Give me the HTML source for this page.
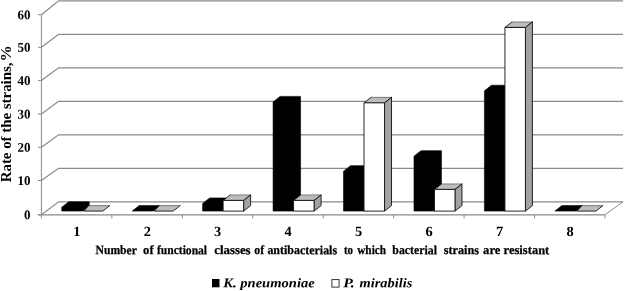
<!DOCTYPE html>
<html><head><meta charset="utf-8"><title>chart</title>
<style>html,body{margin:0;padding:0;background:#fff;}body{width:624px;height:291px;overflow:hidden;position:relative;font-family:"Liberation Serif",serif;}</style></head>
<body>
<svg width="624" height="291" viewBox="0 0 624 291" style="position:absolute;left:0;top:0;will-change:transform">
<polyline points="41.4,214.70 58.6,201.80 623.0,201.80" fill="none" stroke="#8a8a8a" stroke-width="1.25"/>
<line x1="37.9" y1="214.70" x2="41.4" y2="214.70" stroke="#8a8a8a" stroke-width="1"/>
<polyline points="41.4,180.50 58.6,168.30 623.0,168.30" fill="none" stroke="#8a8a8a" stroke-width="1.25"/>
<line x1="37.9" y1="180.50" x2="41.4" y2="180.50" stroke="#8a8a8a" stroke-width="1"/>
<polyline points="41.4,147.30 58.6,134.80 623.0,134.80" fill="none" stroke="#8a8a8a" stroke-width="1.25"/>
<line x1="37.9" y1="147.30" x2="41.4" y2="147.30" stroke="#8a8a8a" stroke-width="1"/>
<polyline points="41.4,114.00 58.6,101.30 623.0,101.30" fill="none" stroke="#8a8a8a" stroke-width="1.25"/>
<line x1="37.9" y1="114.00" x2="41.4" y2="114.00" stroke="#8a8a8a" stroke-width="1"/>
<polyline points="41.4,80.60 58.6,67.80 623.0,67.80" fill="none" stroke="#8a8a8a" stroke-width="1.25"/>
<line x1="37.9" y1="80.60" x2="41.4" y2="80.60" stroke="#8a8a8a" stroke-width="1"/>
<polyline points="41.4,47.30 58.6,34.30 623.0,34.30" fill="none" stroke="#8a8a8a" stroke-width="1.25"/>
<line x1="37.9" y1="47.30" x2="41.4" y2="47.30" stroke="#8a8a8a" stroke-width="1"/>
<polyline points="41.4,14.70 58.6,0.80 623.0,0.80" fill="none" stroke="#8a8a8a" stroke-width="1.25"/>
<line x1="37.9" y1="14.70" x2="41.4" y2="14.70" stroke="#8a8a8a" stroke-width="1"/>
<line x1="41.4" y1="14.70" x2="41.4" y2="218.29999999999998" stroke="#8a8a8a" stroke-width="1"/>
<line x1="37.9" y1="214.89999999999998" x2="605.0" y2="214.89999999999998" stroke="#8a8a8a" stroke-width="1.3"/>
<line x1="605.0" y1="214.7" x2="623.0" y2="201.8" stroke="#8a8a8a" stroke-width="1"/>
<line x1="111.85" y1="214.7" x2="111.85" y2="218.29999999999998" stroke="#8a8a8a" stroke-width="1"/>
<line x1="182.30" y1="214.7" x2="182.30" y2="218.29999999999998" stroke="#8a8a8a" stroke-width="1"/>
<line x1="252.75" y1="214.7" x2="252.75" y2="218.29999999999998" stroke="#8a8a8a" stroke-width="1"/>
<line x1="323.20" y1="214.7" x2="323.20" y2="218.29999999999998" stroke="#8a8a8a" stroke-width="1"/>
<line x1="393.65" y1="214.7" x2="393.65" y2="218.29999999999998" stroke="#8a8a8a" stroke-width="1"/>
<line x1="464.10" y1="214.7" x2="464.10" y2="218.29999999999998" stroke="#8a8a8a" stroke-width="1"/>
<line x1="534.55" y1="214.7" x2="534.55" y2="218.29999999999998" stroke="#8a8a8a" stroke-width="1"/>
<line x1="605.00" y1="214.7" x2="605.00" y2="218.29999999999998" stroke="#8a8a8a" stroke-width="1"/>
<polygon points="61.72,211.10 82.22,211.10 89.22,205.60 89.22,201.77 68.72,201.77 61.72,207.27" fill="#000" stroke="#000" stroke-width="0.6"/>
<polygon points="81.22,211.10 83.72,211.10 88.82,205.60 88.22,205.60" fill="#000"/>
<polygon points="83.72,211.10 102.72,211.10 109.72,205.60 88.82,205.60" fill="#bcbcbc"/>
<line x1="88.82" y1="205.60" x2="109.72" y2="205.60" stroke="#555" stroke-width="0.7"/>
<polyline points="88.82,205.60 83.72,211.10 102.72,211.10 109.72,205.60" fill="none" stroke="#111" stroke-width="0.9" stroke-linejoin="round" stroke-linecap="round"/>
<polygon points="132.18,211.10 152.68,211.10 159.68,205.60 159.68,205.60 139.18,205.60 132.18,211.10" fill="#000" stroke="#000" stroke-width="0.6"/>
<polygon points="151.68,211.10 154.18,211.10 159.28,205.60 158.68,205.60" fill="#000"/>
<polygon points="154.18,211.10 173.18,211.10 180.18,205.60 159.28,205.60" fill="#bcbcbc"/>
<line x1="159.28" y1="205.60" x2="180.18" y2="205.60" stroke="#555" stroke-width="0.7"/>
<polyline points="159.28,205.60 154.18,211.10 173.18,211.10 180.18,205.60" fill="none" stroke="#111" stroke-width="0.9" stroke-linejoin="round" stroke-linecap="round"/>
<polygon points="202.62,211.10 223.12,211.10 230.12,205.60 230.12,197.94 209.62,197.94 202.62,203.44" fill="#000" stroke="#000" stroke-width="0.6"/>
<polygon points="223.12,200.44 243.62,200.44 250.62,194.94 230.12,194.94" fill="#bcbcbc"/>
<line x1="230.12" y1="194.94" x2="250.62" y2="194.94" stroke="#555" stroke-width="0.7"/>
<polyline points="230.12,194.94 223.12,200.44 243.62,200.44 250.62,194.94" fill="none" stroke="#111" stroke-width="0.9" stroke-linejoin="round" stroke-linecap="round"/>
<polygon points="243.62,200.44 250.62,194.94 250.62,205.60 243.62,211.10" fill="#a2a2a2" stroke="#111" stroke-width="0.9" stroke-linejoin="round"/>
<polygon points="223.12,200.44 243.62,200.44 243.62,211.10 223.12,211.10" fill="#fff" stroke="#111" stroke-width="0.9" stroke-linejoin="round"/>
<polygon points="273.08,211.10 293.58,211.10 300.58,205.60 300.58,96.38 280.08,96.38 273.08,101.88" fill="#000" stroke="#000" stroke-width="0.6"/>
<polygon points="293.58,200.44 314.08,200.44 321.08,194.94 300.58,194.94" fill="#bcbcbc"/>
<line x1="300.58" y1="194.94" x2="321.08" y2="194.94" stroke="#555" stroke-width="0.7"/>
<polyline points="300.58,194.94 293.58,200.44 314.08,200.44 321.08,194.94" fill="none" stroke="#111" stroke-width="0.9" stroke-linejoin="round" stroke-linecap="round"/>
<polygon points="314.08,200.44 321.08,194.94 321.08,205.60 314.08,211.10" fill="#a2a2a2" stroke="#111" stroke-width="0.9" stroke-linejoin="round"/>
<polygon points="293.58,200.44 314.08,200.44 314.08,211.10 293.58,211.10" fill="#fff" stroke="#111" stroke-width="0.9" stroke-linejoin="round"/>
<polygon points="343.53,211.10 364.03,211.10 371.03,205.60 371.03,165.64 350.53,165.64 343.53,171.14" fill="#000" stroke="#000" stroke-width="0.6"/>
<polygon points="364.03,102.87 384.53,102.87 391.53,97.37 371.03,97.37" fill="#bcbcbc"/>
<line x1="371.03" y1="97.37" x2="391.53" y2="97.37" stroke="#555" stroke-width="0.7"/>
<polyline points="371.03,97.37 364.03,102.87 384.53,102.87 391.53,97.37" fill="none" stroke="#111" stroke-width="0.9" stroke-linejoin="round" stroke-linecap="round"/>
<polygon points="384.53,102.87 391.53,97.37 391.53,205.60 384.53,211.10" fill="#a2a2a2" stroke="#111" stroke-width="0.9" stroke-linejoin="round"/>
<polygon points="364.03,102.87 384.53,102.87 384.53,211.10 364.03,211.10" fill="#fff" stroke="#111" stroke-width="0.9" stroke-linejoin="round"/>
<polygon points="413.98,211.10 434.48,211.10 441.48,205.60 441.48,150.66 420.98,150.66 413.98,156.16" fill="#000" stroke="#000" stroke-width="0.6"/>
<polygon points="434.48,189.45 454.98,189.45 461.98,183.95 441.48,183.95" fill="#bcbcbc"/>
<line x1="441.48" y1="183.95" x2="461.98" y2="183.95" stroke="#555" stroke-width="0.7"/>
<polyline points="441.48,183.95 434.48,189.45 454.98,189.45 461.98,183.95" fill="none" stroke="#111" stroke-width="0.9" stroke-linejoin="round" stroke-linecap="round"/>
<polygon points="454.98,189.45 461.98,183.95 461.98,205.60 454.98,211.10" fill="#a2a2a2" stroke="#111" stroke-width="0.9" stroke-linejoin="round"/>
<polygon points="434.48,189.45 454.98,189.45 454.98,211.10 434.48,211.10" fill="#fff" stroke="#111" stroke-width="0.9" stroke-linejoin="round"/>
<polygon points="484.43,211.10 504.93,211.10 511.93,205.60 511.93,85.22 491.43,85.22 484.43,90.72" fill="#000" stroke="#000" stroke-width="0.6"/>
<polygon points="504.93,27.45 525.42,27.45 532.42,21.95 511.93,21.95" fill="#bcbcbc"/>
<line x1="511.93" y1="21.95" x2="532.42" y2="21.95" stroke="#555" stroke-width="0.7"/>
<polyline points="511.93,21.95 504.93,27.45 525.42,27.45 532.42,21.95" fill="none" stroke="#111" stroke-width="0.9" stroke-linejoin="round" stroke-linecap="round"/>
<polygon points="525.42,27.45 532.42,21.95 532.42,205.60 525.42,211.10" fill="#a2a2a2" stroke="#111" stroke-width="0.9" stroke-linejoin="round"/>
<polygon points="504.93,27.45 525.42,27.45 525.42,211.10 504.93,211.10" fill="#fff" stroke="#111" stroke-width="0.9" stroke-linejoin="round"/>
<polygon points="554.88,211.10 575.38,211.10 582.38,205.60 582.38,205.60 561.88,205.60 554.88,211.10" fill="#000" stroke="#000" stroke-width="0.6"/>
<polygon points="574.38,211.10 576.88,211.10 581.98,205.60 581.38,205.60" fill="#000"/>
<polygon points="576.88,211.10 595.88,211.10 602.88,205.60 581.98,205.60" fill="#bcbcbc"/>
<line x1="581.98" y1="205.60" x2="602.88" y2="205.60" stroke="#555" stroke-width="0.7"/>
<polyline points="581.98,205.60 576.88,211.10 595.88,211.10 602.88,205.60" fill="none" stroke="#111" stroke-width="0.9" stroke-linejoin="round" stroke-linecap="round"/>
<text transform="translate(30.5,219.20) rotate(0.05) scale(0.97,1)" text-anchor="end" font-size="13.4" font-family="Liberation Serif, serif" font-weight="bold" fill="#000">0</text>
<text transform="translate(30.5,185.00) rotate(0.05) scale(0.97,1)" text-anchor="end" font-size="13.4" font-family="Liberation Serif, serif" font-weight="bold" fill="#000">10</text>
<text transform="translate(30.5,151.80) rotate(0.05) scale(0.97,1)" text-anchor="end" font-size="13.4" font-family="Liberation Serif, serif" font-weight="bold" fill="#000">20</text>
<text transform="translate(30.5,118.50) rotate(0.05) scale(0.97,1)" text-anchor="end" font-size="13.4" font-family="Liberation Serif, serif" font-weight="bold" fill="#000">30</text>
<text transform="translate(30.5,85.10) rotate(0.05) scale(0.97,1)" text-anchor="end" font-size="13.4" font-family="Liberation Serif, serif" font-weight="bold" fill="#000">40</text>
<text transform="translate(30.5,51.80) rotate(0.05) scale(0.97,1)" text-anchor="end" font-size="13.4" font-family="Liberation Serif, serif" font-weight="bold" fill="#000">50</text>
<text transform="translate(30.5,19.20) rotate(0.05) scale(0.97,1)" text-anchor="end" font-size="13.4" font-family="Liberation Serif, serif" font-weight="bold" fill="#000">60</text>
<text transform="translate(76.83,236) rotate(0.05) scale(1.03,1)" text-anchor="middle" font-size="14" font-family="Liberation Serif, serif" font-weight="bold" fill="#000">1</text>
<text transform="translate(147.28,236) rotate(0.05) scale(1.03,1)" text-anchor="middle" font-size="14" font-family="Liberation Serif, serif" font-weight="bold" fill="#000">2</text>
<text transform="translate(217.72,236) rotate(0.05) scale(1.03,1)" text-anchor="middle" font-size="14" font-family="Liberation Serif, serif" font-weight="bold" fill="#000">3</text>
<text transform="translate(288.18,236) rotate(0.05) scale(1.03,1)" text-anchor="middle" font-size="14" font-family="Liberation Serif, serif" font-weight="bold" fill="#000">4</text>
<text transform="translate(358.62,236) rotate(0.05) scale(1.03,1)" text-anchor="middle" font-size="14" font-family="Liberation Serif, serif" font-weight="bold" fill="#000">5</text>
<text transform="translate(429.07,236) rotate(0.05) scale(1.03,1)" text-anchor="middle" font-size="14" font-family="Liberation Serif, serif" font-weight="bold" fill="#000">6</text>
<text transform="translate(499.52,236) rotate(0.05) scale(1.03,1)" text-anchor="middle" font-size="14" font-family="Liberation Serif, serif" font-weight="bold" fill="#000">7</text>
<text transform="translate(569.98,236) rotate(0.05) scale(1.03,1)" text-anchor="middle" font-size="14" font-family="Liberation Serif, serif" font-weight="bold" fill="#000">8</text>
<text transform="translate(95.5,254.1) rotate(0.05)" font-size="12.6" textLength="41.4" lengthAdjust="spacingAndGlyphs" stroke="#000" stroke-width="0.25" font-family="Liberation Serif, serif" font-weight="bold" fill="#000">Number</text>
<text transform="translate(143.1,254.1) rotate(0.05)" font-size="12.6" textLength="10.5" lengthAdjust="spacingAndGlyphs" stroke="#000" stroke-width="0.25" font-family="Liberation Serif, serif" font-weight="bold" fill="#000">of</text>
<text transform="translate(156.9,254.1) rotate(0.05)" font-size="12.6" textLength="50.2" lengthAdjust="spacingAndGlyphs" stroke="#000" stroke-width="0.25" font-family="Liberation Serif, serif" font-weight="bold" fill="#000">functional</text>
<text transform="translate(214.2,254.1) rotate(0.05)" font-size="12.6" textLength="36.4" lengthAdjust="spacingAndGlyphs" stroke="#000" stroke-width="0.25" font-family="Liberation Serif, serif" font-weight="bold" fill="#000">classes</text>
<text transform="translate(254.3,254.1) rotate(0.05)" font-size="12.6" textLength="9.8" lengthAdjust="spacingAndGlyphs" stroke="#000" stroke-width="0.25" font-family="Liberation Serif, serif" font-weight="bold" fill="#000">of</text>
<text transform="translate(267.4,254.1) rotate(0.05)" font-size="12.6" textLength="69.7" lengthAdjust="spacingAndGlyphs" stroke="#000" stroke-width="0.25" font-family="Liberation Serif, serif" font-weight="bold" fill="#000">antibacterials</text>
<text transform="translate(343.9,254.1) rotate(0.05)" font-size="12.6" textLength="9.1" lengthAdjust="spacingAndGlyphs" stroke="#000" stroke-width="0.25" font-family="Liberation Serif, serif" font-weight="bold" fill="#000">to</text>
<text transform="translate(357.2,254.1) rotate(0.05)" font-size="12.6" textLength="28.9" lengthAdjust="spacingAndGlyphs" stroke="#000" stroke-width="0.25" font-family="Liberation Serif, serif" font-weight="bold" fill="#000">which</text>
<text transform="translate(392.3,254.1) rotate(0.05)" font-size="12.6" textLength="44.7" lengthAdjust="spacingAndGlyphs" stroke="#000" stroke-width="0.25" font-family="Liberation Serif, serif" font-weight="bold" fill="#000">bacterial</text>
<text transform="translate(443.8,254.1) rotate(0.05)" font-size="12.6" textLength="35.2" lengthAdjust="spacingAndGlyphs" stroke="#000" stroke-width="0.25" font-family="Liberation Serif, serif" font-weight="bold" fill="#000">strains</text>
<text transform="translate(483.1,254.1) rotate(0.05)" font-size="12.6" textLength="17.3" lengthAdjust="spacingAndGlyphs" stroke="#000" stroke-width="0.25" font-family="Liberation Serif, serif" font-weight="bold" fill="#000">are</text>
<text transform="translate(503.6,254.1) rotate(0.05)" font-size="12.6" textLength="45.7" lengthAdjust="spacingAndGlyphs" stroke="#000" stroke-width="0.25" font-family="Liberation Serif, serif" font-weight="bold" fill="#000">resistant</text>
<text transform="translate(10.5,182.3) rotate(-90) scale(1,0.93)" font-size="15" textLength="119.8" lengthAdjust="spacingAndGlyphs" font-family="Liberation Serif, serif" font-weight="bold" fill="#000">Rate of the strains,</text>
<text transform="translate(10.5,45.2) rotate(-90) scale(1,0.93)" text-anchor="end" font-size="15" textLength="16.2" lengthAdjust="spacingAndGlyphs" font-family="Liberation Serif, serif" font-weight="bold" fill="#000">%</text>
<rect x="212" y="279" width="7.5" height="8.3" fill="#000"/>
<text transform="translate(223.3,287.3) rotate(0.05)" font-size="13.2" font-style="italic" textLength="91.4" lengthAdjust="spacingAndGlyphs" font-family="Liberation Serif, serif" font-weight="bold" fill="#000">K. pneumoniae</text>
<rect x="331.9" y="279.6" width="7.2" height="7.5" fill="#fff" stroke="#222" stroke-width="0.9"/>
<text transform="translate(343.2,287.3) rotate(0.05)" font-size="13.2" font-style="italic" textLength="11.5" lengthAdjust="spacingAndGlyphs" font-family="Liberation Serif, serif" font-weight="bold" fill="#000">P.</text>
<text transform="translate(359.6,287.3) rotate(0.05)" font-size="13.2" font-style="italic" textLength="52.7" lengthAdjust="spacingAndGlyphs" font-family="Liberation Serif, serif" font-weight="bold" fill="#000">mirabilis</text>
</svg>
</body></html>
